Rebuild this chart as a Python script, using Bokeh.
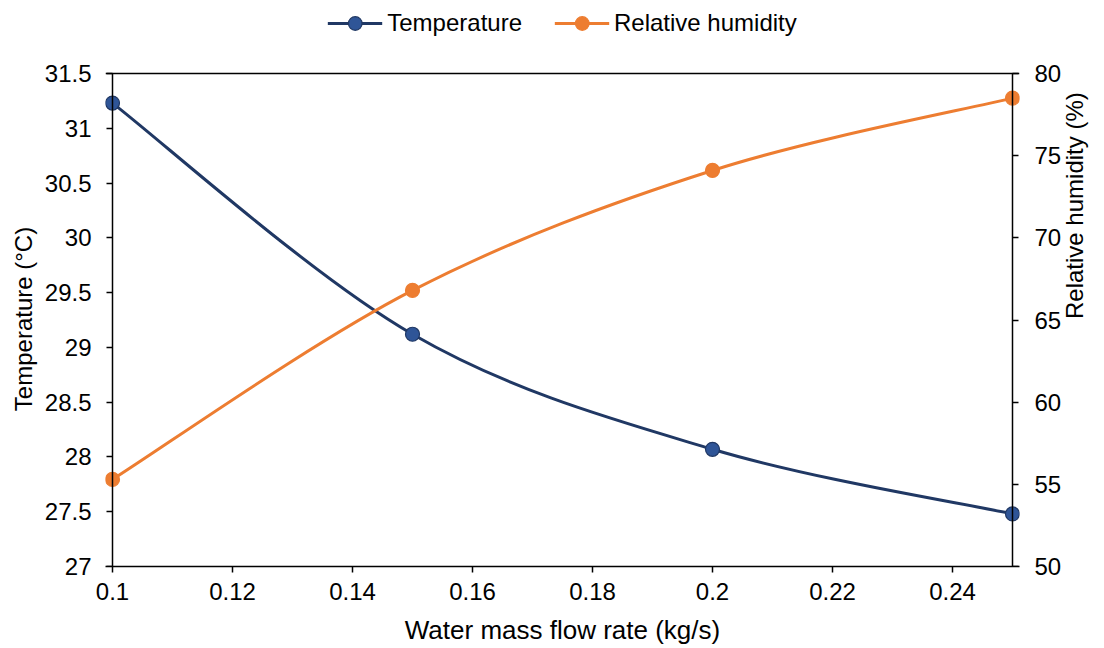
import math
from bokeh.plotting import figure
from bokeh.layouts import column
from bokeh.models import (Range1d, LinearAxis, FixedTicker, Legend, LegendItem,
                          ColumnDataSource, Span)
from bokeh.embed import file_html
from bokeh.resources import INLINE

# ---- data ----
flow = [0.10, 0.15, 0.20, 0.25]
temperature = [31.23, 29.12, 28.07, 27.48]
humidity = [55.3, 66.8, 74.1, 78.5]

x_ticks = [0.1, 0.12, 0.14, 0.16, 0.18, 0.2, 0.22, 0.24]
x_tick_labels = ["0.1", "0.12", "0.14", "0.16", "0.18", "0.2", "0.22", "0.24"]
t_ticks = [27, 27.5, 28, 28.5, 29, 29.5, 30, 30.5, 31, 31.5]
t_tick_labels = ["27", "27.5", "28", "28.5", "29", "29.5", "30", "30.5", "31", "31.5"]
h_ticks = [50, 55, 60, 65, 70, 75, 80]
h_tick_labels = ["50", "55", "60", "65", "70", "75", "80"]

X_MIN, X_MAX = 0.1, 0.25
T_MIN, T_MAX = 27, 31.5
H_MIN, H_MAX = 50, 80

BLUE_LINE = "#203864"
BLUE_FILL = "#2F5597"
ORANGE = "#ED7D31"
FONT = "Liberation Sans"

# data box in page pixels: x 112..1012, y 73..566; frame padded so edge markers show whole
BOX_L, BOX_R, BOX_T, BOX_B = 112, 1012, 73, 566
PAD_X, PAD_T = 7, 2
dx = PAD_X * (X_MAX - X_MIN) / (BOX_R - BOX_L)
dt = PAD_T * (T_MAX - T_MIN) / (BOX_B - BOX_T)
dh = PAD_T * (H_MAX - H_MIN) / (BOX_B - BOX_T)


def smooth_segments(xs, ys):
    """Catmull-Rom style cubic Bezier control points (Excel-like smoothed line)."""
    n = len(xs)
    out = dict(x0=[], y0=[], x1=[], y1=[], cx0=[], cy0=[], cx1=[], cy1=[])
    for i in range(n - 1):
        p0 = (xs[max(i - 1, 0)], ys[max(i - 1, 0)])
        p1 = (xs[i], ys[i])
        p2 = (xs[i + 1], ys[i + 1])
        p3 = (xs[min(i + 2, n - 1)], ys[min(i + 2, n - 1)])
        out["x0"].append(p1[0]); out["y0"].append(p1[1])
        out["x1"].append(p2[0]); out["y1"].append(p2[1])
        out["cx0"].append(p1[0] + (p2[0] - p0[0]) / 6.0)
        out["cy0"].append(p1[1] + (p2[1] - p0[1]) / 6.0)
        out["cx1"].append(p2[0] - (p3[0] - p1[0]) / 6.0)
        out["cy1"].append(p2[1] - (p3[1] - p1[1]) / 6.0)
    return ColumnDataSource(out)


# ---------------- legend strip ----------------
leg = figure(width=1104, height=46, output_backend="svg", toolbar_location=None,
             x_range=Range1d(0, 1), y_range=Range1d(0, 1),
             x_axis_type=None, y_axis_type=None, min_border=0)
leg.xgrid.visible = False
leg.ygrid.visible = False
leg.outline_line_color = None
nan = float("nan")
lt_line = leg.line([nan], [nan], line_color=BLUE_LINE, line_width=3)
lt_pt = leg.scatter([nan], [nan], size=14, fill_color=BLUE_FILL, line_color=BLUE_LINE, line_width=1.2)
lh_line = leg.line([nan], [nan], line_color=ORANGE, line_width=3)
lh_pt = leg.scatter([nan], [nan], size=14, fill_color=ORANGE, line_color=ORANGE, line_width=1.2)
legend = Legend(items=[LegendItem(label="Temperature", renderers=[lt_line, lt_pt]),
                       LegendItem(label="Relative humidity", renderers=[lh_line, lh_pt])],
                orientation="horizontal", location="center",
                glyph_width=55, glyph_height=34, label_standoff=5, spacing=32,
                label_text_font=FONT, label_text_font_size="24px",
                label_text_color="black", border_line_color=None,
                background_fill_alpha=0, padding=0, margin=0)
leg.add_layout(legend, "center")

# ---------------- main chart ----------------
p = figure(width=1104, height=602, output_backend="svg", toolbar_location=None,
           x_range=Range1d(X_MIN - dx, X_MAX + dx), y_range=Range1d(T_MIN, T_MAX + dt),
           min_border_left=BOX_L - PAD_X, min_border_right=1104 - BOX_R - PAD_X,
           min_border_top=BOX_T - 46 - PAD_T, min_border_bottom=648 - BOX_B)
p.extra_y_ranges = {"rh": Range1d(H_MIN, H_MAX + dh)}

p.xgrid.visible = False
p.ygrid.visible = False
p.outline_line_color = None
p.background_fill_color = "white"
p.border_fill_color = "white"

p.bezier(x0="x0", y0="y0", x1="x1", y1="y1", cx0="cx0", cy0="cy0", cx1="cx1", cy1="cy1",
         source=smooth_segments(flow, temperature), line_color=BLUE_LINE, line_width=3)
p.bezier(x0="x0", y0="y0", x1="x1", y1="y1", cx0="cx0", cy0="cy0", cx1="cx1", cy1="cy1",
         source=smooth_segments(flow, humidity), line_color=ORANGE, line_width=3,
         y_range_name="rh")

p.scatter(flow, temperature, size=14, fill_color=BLUE_FILL, line_color=BLUE_LINE, line_width=1.2)
p.scatter(flow, humidity, size=14, fill_color=ORANGE, line_color=ORANGE, line_width=1.2,
          y_range_name="rh")

# top border of plot area
p.add_layout(Span(location=T_MAX, dimension="width", line_color="black", line_width=1.5))


def style_axis(ax, ticks, labels, size="24px"):
    ax.ticker = FixedTicker(ticks=ticks)
    ax.major_label_overrides = {t: l for t, l in zip(ticks, labels)}
    ax.minor_tick_line_color = None
    ax.major_tick_in = 0
    ax.major_tick_out = 6
    ax.axis_line_color = "black"
    ax.axis_line_width = 1.5
    ax.major_tick_line_color = "black"
    ax.major_tick_line_width = 1.5
    ax.major_label_text_font = FONT
    ax.major_label_text_font_size = size
    ax.major_label_text_color = "black"
    ax.axis_label_text_font = FONT
    ax.axis_label_text_font_size = size
    ax.axis_label_text_font_style = "normal"
    ax.axis_label_text_color = "black"


def line_only(ax):
    # axis line + ticks drawn at the data edge; no texts
    ax.major_label_overrides = {t: "" for t in ax.ticker.ticks}
    ax.major_label_standoff = 0
    ax.axis_label = None


def text_only(ax):
    # tick labels + title, without line/ticks
    ax.axis_line_color = None
    ax.major_tick_line_color = None
    ax.major_tick_out = 0


xax = p.xaxis[0]
style_axis(xax, x_ticks, x_tick_labels)
xax.axis_label = "Water mass flow rate (kg/s)"
xax.axis_label_text_font_size = "26px"
xax.major_label_standoff = 10
xax.axis_label_standoff = 12

# left: line/ticks at x = X_MIN
lax = p.yaxis[0]
style_axis(lax, t_ticks, t_tick_labels)
lax.fixed_location = X_MIN
lax.bounds = (T_MIN, T_MAX)
line_only(lax)
# left: texts
lax_t = LinearAxis(axis_label="Temperature (°C)")
style_axis(lax_t, t_ticks, t_tick_labels)
text_only(lax_t)
lax_t.major_label_standoff = 14
lax_t.axis_label_standoff = 5
p.add_layout(lax_t, "left")

# right: line/ticks at x = X_MAX
rax = LinearAxis(y_range_name="rh")
style_axis(rax, h_ticks, h_tick_labels)
rax.fixed_location = X_MAX
rax.bounds = (H_MIN, H_MAX)
line_only(rax)
p.add_layout(rax, "right")
# right: texts
rax_t = LinearAxis(y_range_name="rh", axis_label="Relative humidity (%)")
style_axis(rax_t, h_ticks, h_tick_labels)
text_only(rax_t)
rax_t.major_label_standoff = 15
rax_t.axis_label_standoff = 10
rax_t.axis_label_orientation = math.pi / 2
p.add_layout(rax_t, "right")

page = column(leg, p, spacing=0)

with open("out.html", "w") as f:
    f.write(file_html(page, INLINE))
